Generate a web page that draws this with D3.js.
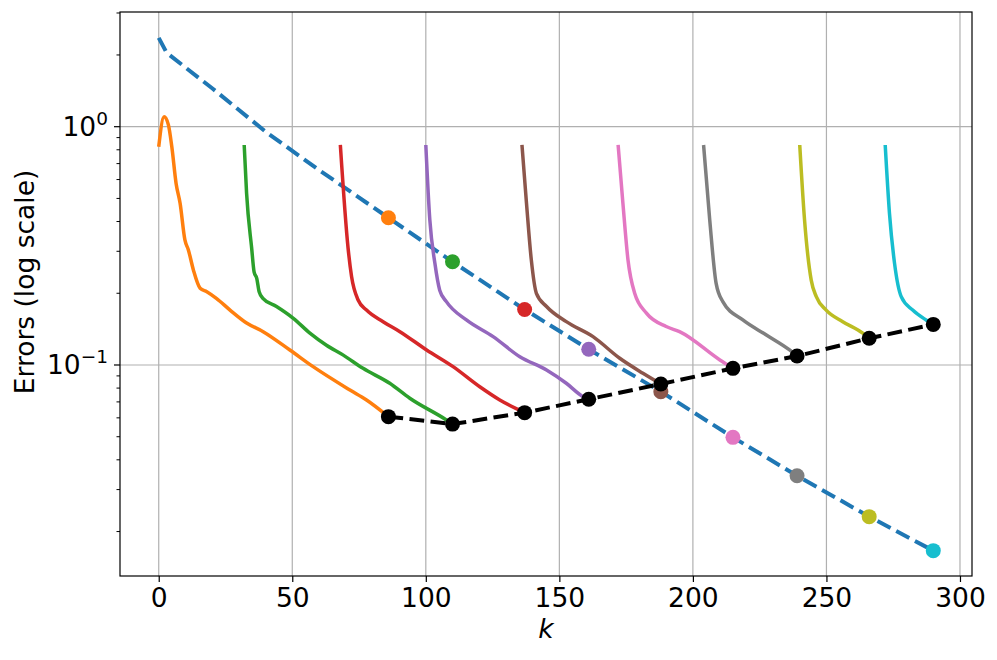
<!DOCTYPE html>
<html>
<head>
<meta charset="utf-8">
<script src="https://cdn.jsdelivr.net/npm/d3@7"></script>
<style>
  body { margin: 0; background: #fff; }
  svg text { font-family: "DejaVu Sans", sans-serif; fill: #000; }
</style>
</head>
<body>
<svg id="chart" width="997" height="660"></svg>
<script>
// checkpoints where each restart ends
const endK = [86, 110, 137, 161, 188, 215, 239, 266, 290];
const bestErr = [0.0607, 0.0565, 0.0631, 0.0718, 0.0832, 0.0968, 0.109, 0.1294, 0.148];

// blue dashed reference curve
const refK   = [0, 3, 20, 40, 60, 86, 110, 137, 161, 188, 215, 239, 266, 290];
const refErr = [2.36, 2.04, 1.45, 0.953, 0.658, 0.415, 0.271, 0.171, 0.1164, 0.0773, 0.0497, 0.0343, 0.0231, 0.01663];

// restart curves, [k, error]
const run0 = [[0,0.824],[2,1.10],[3.6,1.02],[4.9,0.824],[6.5,0.578],[8,0.477],[9.8,0.335],[11.1,0.304],[13,0.25],[15.5,0.21],[18,0.203],[21.7,0.19],[26.7,0.17],[32.9,0.150],[39.1,0.138],[49.1,0.1156],[57.8,0.0984],[71.6,0.0785],[77.8,0.0713],[86,0.0607]];
const run1 = [[32,0.838],[32.9,0.525],[34.8,0.309],[35.7,0.246],[36.7,0.231],[37.6,0.203],[39.1,0.19],[44.1,0.176],[50.4,0.157],[56.6,0.136],[62.8,0.121],[69.1,0.110],[76.5,0.0968],[86.5,0.0838],[94,0.0725],[107.7,0.0588],[110,0.0565]];
const run2 = [[68,0.838],[70.9,0.309],[72.2,0.235],[74.7,0.187],[77.8,0.170],[84,0.152],[90.3,0.138],[100.3,0.1156],[110.2,0.0984],[120.2,0.081],[127.7,0.0713],[137,0.0631]];
const run3 = [[100,0.838],[101.5,0.406],[103.4,0.267],[105.2,0.206],[107.7,0.1844],[115.2,0.1545],[125.2,0.1315],[135.2,0.1083],[145.2,0.0953],[152.6,0.0838],[158.9,0.0736],[161,0.0718]];
const run4 = [[136,0.838],[137.7,0.477],[139.5,0.276],[141.4,0.20],[145.2,0.176],[152.6,0.152],[162.6,0.1315],[172.6,0.1067],[181.3,0.0923],[188,0.0832]];
const run5 = [[172,0.838],[173.8,0.477],[175.7,0.276],[178.2,0.20],[182.6,0.165],[190,0.145],[195,0.138],[210.1,0.105],[215,0.0968]];
const run6 = [[204,0.838],[206.3,0.406],[208.7,0.22],[211.2,0.1844],[218.7,0.1545],[227.5,0.1336],[236.2,0.1156],[239,0.109]];
const run7 = [[240,0.838],[241.8,0.406],[244.3,0.227],[246.2,0.1935],[249.9,0.170],[256.1,0.152],[263.6,0.136],[266,0.1294]];
const run8 = [[272,0.838],[273.6,0.433],[275.5,0.267],[278,0.1935],[282.3,0.170],[287.3,0.1545],[290,0.148]];
const runs = [run0, run1, run2, run3, run4, run5, run6, run7, run8];

const xTicks = [0, 50, 100, 150, 200, 250, 300];
const yMajor = [1, 0.1];
const yMajorLabels = [['10', '0'], ['10', '\u22121']];

const colors = ['#ff7f0e', '#2ca02c', '#d62728', '#9467bd', '#8c564b', '#e377c2', '#7f7f7f', '#bcbd22', '#17becf'];
const blue = '#1f77b4';
const fs = 26.5;

const L = 120, R = 972, T = 12, B = 576;
const svg = d3.select('#chart');

const x = d3.scaleLinear().domain([-14.5, 304.5]).range([L, R]);
const y = d3.scaleLog().domain([Math.pow(10, -1.8855), Math.pow(10, 0.4813)]).range([B, T]);

// grid
const grid = svg.append('g').attr('stroke', '#b0b0b0').attr('stroke-width', 1.2);
grid.selectAll('.gx').data(xTicks).join('line')
    .attr('x1', d => x(d)).attr('x2', d => x(d)).attr('y1', T).attr('y2', B);
grid.selectAll('.gy').data(yMajor).join('line')
    .attr('x1', L).attr('x2', R).attr('y1', d => y(d)).attr('y2', d => y(d));

svg.append('clipPath').attr('id', 'clip')
    .append('rect').attr('x', L).attr('y', T).attr('width', R - L).attr('height', B - T);
const plot = svg.append('g').attr('clip-path', 'url(#clip)');

const line = d3.line().x(d => x(d[0])).y(d => y(d[1]));
const smooth = d3.line().x(d => x(d[0])).y(d => y(d[1])).curve(d3.curveMonotoneX);
const dash = '14.8,6.4';

// blue reference
const refPts = refK.map((k, i) => [k, refErr[i]]);
plot.append('path').datum(refPts)
    .attr('d', line).attr('fill', 'none')
    .attr('stroke', blue).attr('stroke-width', 4).attr('stroke-dasharray', dash);

// restart curves + their marker on the reference line
runs.forEach((r, i) => {
    plot.append('path').datum(r)
        .attr('d', smooth).attr('fill', 'none')
        .attr('stroke', colors[i]).attr('stroke-width', 3.5).attr('stroke-linejoin', 'round');
    const j = refK.indexOf(endK[i]);
    plot.append('circle')
        .attr('cx', x(endK[i])).attr('cy', y(refErr[j])).attr('r', 7.5)
        .attr('fill', colors[i]);
});

// best-so-far black line
const bestPts = endK.map((k, i) => [k, bestErr[i]]);
plot.append('path').datum(bestPts)
    .attr('d', line).attr('fill', 'none')
    .attr('stroke', '#000').attr('stroke-width', 4).attr('stroke-dasharray', dash);
plot.selectAll('.bd').data(bestPts).join('circle')
    .attr('cx', d => x(d[0])).attr('cy', d => y(d[1])).attr('r', 7.5).attr('fill', '#000');

// axes
const xAxis = svg.append('g').attr('transform', `translate(0,${B})`)
    .call(d3.axisBottom(x).tickValues(xTicks).tickSize(6).tickPadding(6).tickFormat(d3.format('d')));
xAxis.select('.domain').remove();
xAxis.selectAll('text').attr('font-size', fs).attr('font-family', 'DejaVu Sans');
xAxis.selectAll('line').attr('stroke-width', 1.2);

const minor = [];
[0.01, 0.1, 1].forEach(dec => { for (let m = 2; m <= 9; m++) minor.push(dec * m); });
const yDom = y.domain();
const yMinor = minor.filter(v => v >= yDom[0] && v <= yDom[1]);

const yAx = svg.append('g').attr('transform', `translate(${L},0)`);
yAx.selectAll('.mn').data(yMinor).join('line')
    .attr('x1', -3.5).attr('x2', 0).attr('y1', d => y(d)).attr('y2', d => y(d))
    .attr('stroke', '#000').attr('stroke-width', 1);
yAx.selectAll('.mj').data(yMajor).join('line')
    .attr('x1', -6).attr('x2', 0).attr('y1', d => y(d)).attr('y2', d => y(d))
    .attr('stroke', '#000').attr('stroke-width', 1.2);
const yl = yAx.selectAll('.yl').data(yMajor).join('text')
    .attr('x', -12).attr('y', d => y(d) + 9)
    .attr('text-anchor', 'end').attr('font-size', fs);
yl.append('tspan').text((d, i) => yMajorLabels[i][0]);
yl.append('tspan').attr('font-size', 18.5).attr('dy', -11).text((d, i) => yMajorLabels[i][1]);

// frame
svg.append('rect').attr('x', L).attr('y', T).attr('width', R - L).attr('height', B - T)
    .attr('fill', 'none').attr('stroke', '#000').attr('stroke-width', 1.2);

// labels
svg.append('text').attr('x', (L + R) / 2).attr('y', 638)
    .attr('text-anchor', 'middle').attr('font-size', fs).attr('font-style', 'italic').text('k');
svg.append('text').attr('transform', 'translate(34,282) rotate(-90)')
    .attr('text-anchor', 'middle').attr('font-size', fs).text('Errors (log scale)');
</script>
</body>
</html>
